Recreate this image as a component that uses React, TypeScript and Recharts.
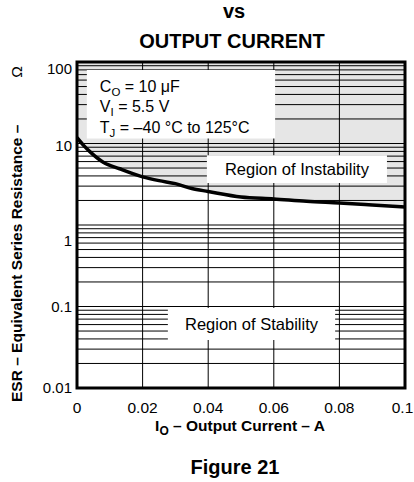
import React from 'react';
import {
  ComposedChart,
  Area,
  Line,
  XAxis,
  YAxis,
  ReferenceLine,
  ReferenceArea,
} from 'recharts';

// ESR stability boundary
const currentA = [0, 0.002, 0.004, 0.008, 0.013, 0.02, 0.025, 0.03, 0.035, 0.04, 0.05, 0.06, 0.07, 0.08, 0.09, 0.1];
const esrOhm = [11.8, 9.5, 7.9, 5.9, 4.9, 3.9, 3.5, 3.22, 2.8, 2.58, 2.21, 2.09, 1.95, 1.86, 1.76, 1.66];

const xTicks = [0, 0.02, 0.04, 0.06, 0.08, 0.1];
const xTickLabels = ['0', '0.02', '0.04', '0.06', '0.08', '0.1'];
// last label is pulled in so it stays on the page
const xTickNudge = [0, 0, 0, 0, 0, -2.5];
const yTicks = [0.01, 0.1, 1, 10, 100];
const yTickLabels = ['0.01', '0.1', '1', '10', '100'];
// the original labels sit a little below their gridlines
const yTickNudge = [0, 0.5, 16, 2.5, 7];

const decades = [0.01, 0.1, 1, 10];
const minorSteps = [1, 2, 3, 4, 5, 6, 7, 8, 9];
const verticalGrid = [0.02, 0.04, 0.06, 0.08];

const FONT = 'Arial, "Liberation Sans", Helvetica, sans-serif';

const rows = currentA.map((c, i) => ({
  current: c,
  esr: esrOhm[i],
  unstable: [esrOhm[i], 100],
}));

const horizontalGrid = decades
  .flatMap((d) => minorSteps.map((m) => +(d * m).toPrecision(3)))
  .filter((v) => v > 0.01 && v < 100);

function XTick(props: any) {
  const { x, y, payload } = props;
  const i = xTicks.indexOf(payload.value);
  return (
    <text
      x={x + (xTickNudge[i] ?? 0)}
      y={y}
      dy="0.71em"
      textAnchor="middle"
      fontSize={15.5}
      fill="#000"
      fontFamily={FONT}
    >
      {xTickLabels[i] ?? payload.value}
    </text>
  );
}

function YTick(props: any) {
  const { x, y, payload } = props;
  const i = yTicks.indexOf(payload.value);
  return (
    <text
      x={x}
      y={y + (yTickNudge[i] ?? 0)}
      dy="0.36em"
      textAnchor="end"
      fontSize={15}
      fill="#000"
      fontFamily={FONT}
    >
      {yTickLabels[i] ?? payload.value}
    </text>
  );
}

const conditionsLabel = (p: any) => {
  const vb = p.viewBox || { x: 0, y: 0 };
  const x0 = vb.x + 13;
  const y0 = vb.y + 22;
  return (
    <g fontFamily={FONT} fontSize={16} fill="#000">
      <text x={x0} y={y0}>
        C<tspan fontSize={11.5} dy={4}>O</tspan>
        <tspan dy={-4}> = 10 μF</tspan>
      </text>
      <text x={x0} y={y0 + 20.5}>
        V<tspan fontSize={11.5} dy={4}>I</tspan>
        <tspan dy={-4}> = 5.5 V</tspan>
      </text>
      <text x={x0} y={y0 + 41}>
        T<tspan fontSize={11.5} dy={4}>J</tspan>
        <tspan dy={-4}> = –40 °C to 125°C</tspan>
      </text>
    </g>
  );
};

const regionLabel = (text: string) => (p: any) => {
  const vb = p.viewBox || { x: 0, y: 0, width: 0, height: 0 };
  return (
    <text
      x={vb.x + vb.width / 2}
      y={vb.y + vb.height / 2}
      dy="0.36em"
      textAnchor="middle"
      fontFamily={FONT}
      fontSize={16.5}
      fill="#000"
    >
      {text}
    </text>
  );
};

export default function App() {
  return (
    <div style={{ position: 'absolute', left: 0, top: 0, width: 414, height: 482, background: '#fff' }}>
      <ComposedChart
        width={414}
        height={482}
        data={rows}
        margin={{ top: 62, right: 9, bottom: 64, left: 0 }}
        style={{ fontFamily: FONT }}
      >
        <XAxis
          dataKey="current"
          type="number"
          domain={[0, 0.1]}
          ticks={xTicks}
          interval={0}
          allowDataOverflow
          axisLine={false}
          tickLine={false}
          tickSize={0}
          tickMargin={14}
          height={30}
          tick={<XTick />}
        />
        <YAxis
          type="number"
          scale="log"
          domain={[0.01, 100]}
          ticks={yTicks}
          interval={0}
          allowDataOverflow
          axisLine={false}
          tickLine={false}
          tickSize={0}
          tickMargin={5}
          width={77}
          tick={<YTick />}
        />

        <Area
          dataKey="unstable"
          type="monotone"
          fill="#e6e6e6"
          fillOpacity={1}
          stroke="none"
          isAnimationActive={false}
          zIndex={100}
        />

        {horizontalGrid.map((v) => (
          <ReferenceLine key={'h' + v} y={v} stroke="#000" strokeWidth={1} zIndex={150} />
        ))}
        {verticalGrid.map((v) => (
          <ReferenceLine key={'v' + v} x={v} stroke="#000" strokeWidth={1} zIndex={150} />
        ))}

        <ReferenceArea
          x1={0.003}
          x2={0.0604}
          y1={11.5}
          y2={80}
          fill="#fff"
          fillOpacity={1}
          stroke="none"
          zIndex={200}
          label={conditionsLabel}
        />
        <ReferenceArea
          x1={0.0396}
          x2={0.0945}
          y1={3.27}
          y2={7.2}
          fill="#fff"
          fillOpacity={1}
          stroke="none"
          zIndex={200}
          label={regionLabel('Region of Instability')}
        />
        <ReferenceArea
          x1={0.0277}
          x2={0.0787}
          y1={0.0388}
          y2={0.096}
          fill="#fff"
          fillOpacity={1}
          stroke="none"
          zIndex={200}
          label={regionLabel('Region of Stability')}
        />

        <Line
          dataKey="esr"
          type="monotone"
          stroke="#000"
          strokeWidth={3.5}
          dot={false}
          activeDot={false}
          isAnimationActive={false}
          zIndex={400}
        />

        <ReferenceArea
          x1={0}
          x2={0.1}
          y1={0.01}
          y2={100}
          fill="none"
          stroke="#000"
          strokeWidth={3}
          zIndex={500}
        />
      </ComposedChart>

      <svg
        width={414}
        height={482}
        style={{ position: 'absolute', left: 0, top: 0, pointerEvents: 'none' }}
        fontFamily={FONT}
      >
        <text x={234} y={18} textAnchor="middle" fontSize={20} fontWeight="bold" fill="#000">
          vs
        </text>
        <text x={232} y={48} textAnchor="middle" fontSize={20} fontWeight="bold" fill="#000">
          OUTPUT CURRENT
        </text>

        <text x={240} y={431} textAnchor="middle" fontSize={15.5} fontWeight="bold" fill="#000">
          I<tspan fontSize={12} dy={4}>O</tspan>
          <tspan dy={-4}> – Output Current – A</tspan>
        </text>

        <text
          x={22}
          y={402}
          transform="rotate(-90, 22, 402)"
          fontSize={15.5}
          fontWeight="bold"
          fill="#000"
        >
          ESR – Equivalent Series Resistance –
        </text>
        <text x={22} y={72} transform="rotate(-90, 22, 72)" textAnchor="middle" fontSize={15.5} fill="#000">
          Ω
        </text>

        <text x={235} y={474} textAnchor="middle" fontSize={20} fontWeight="bold" fill="#000">
          Figure 21
        </text>
      </svg>
    </div>
  );
}
